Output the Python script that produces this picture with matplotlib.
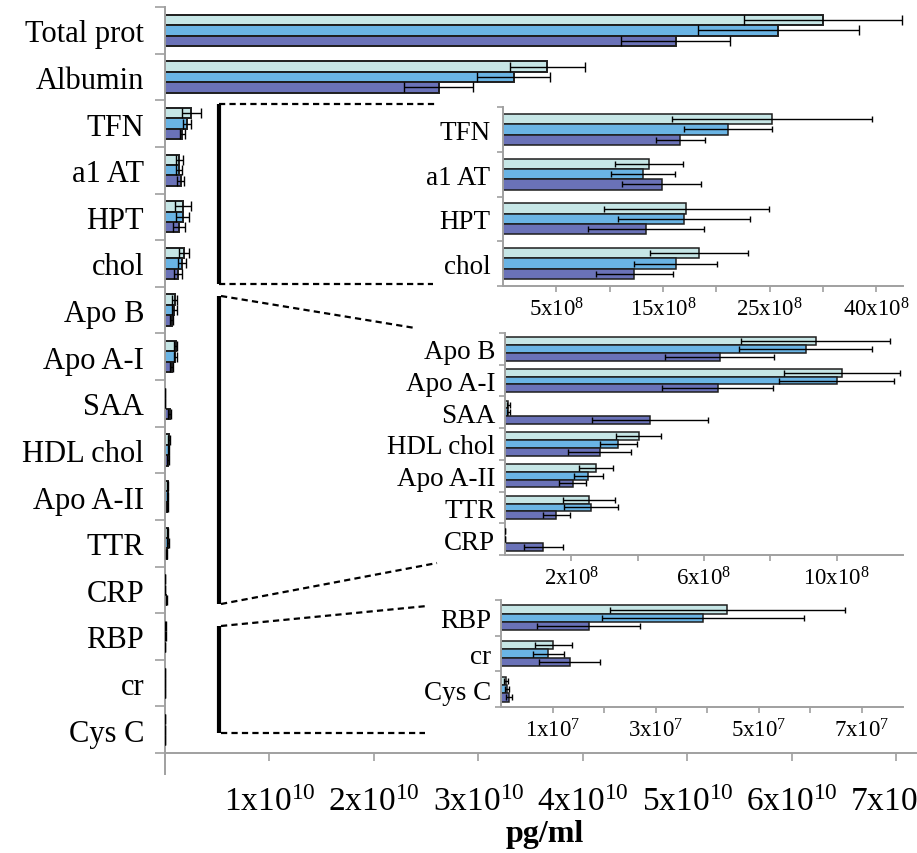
import matplotlib

matplotlib.use("Agg")
import matplotlib.pyplot as plt
import numpy as np
from matplotlib.lines import Line2D

plt.rcParams["font.family"] = ["Liberation Serif", "DejaVu Serif"]
plt.rcParams["mathtext.fontset"] = "custom"
plt.rcParams["mathtext.rm"] = "Liberation Serif"
plt.rcParams["mathtext.it"] = "Liberation Serif:italic"

# analytes, top to bottom
ANALYTES = ["Total prot", "Albumin", "TFN", "a1 AT", "HPT", "chol", "Apo B", "Apo A-I",
            "SAA", "HDL chol", "Apo A-II", "TTR", "CRP", "RBP", "cr", "Cys C"]

# concentrations (pg/ml) for the three groups, with +/- error
MEAN_1 = [6.30e10, 3.66e10, 25.2e8, 13.7e8, 17.2e8, 18.4e8, 9.37e8, 10.16e8,
          0.10e8, 4.03e8, 2.74e8, 2.54e8, 0.01e8, 4.39e7, 1.01e7, 0.10e7]
ERR_1 = [0.76e10, 0.36e10, 9.4e8, 3.2e8, 7.7e8, 4.6e8, 2.24e8, 1.74e8,
         0.05e8, 0.68e8, 0.51e8, 0.78e8, 0.005e8, 2.28e7, 0.36e7, 0.04e7]
MEAN_2 = [5.87e10, 3.34e10, 21.1e8, 13.1e8, 17.0e8, 16.2e8, 9.07e8, 10.0e8,
          0.10e8, 3.42e8, 2.51e8, 2.60e8, 0.01e8, 3.92e7, 0.92e7, 0.12e7]
ERR_2 = [0.77e10, 0.35e10, 4.1e8, 3.0e8, 6.2e8, 3.9e8, 2.0e8, 1.74e8,
         0.05e8, 0.56e8, 0.44e8, 0.82e8, 0.005e8, 1.96e7, 0.30e7, 0.04e7]
MEAN_3 = [4.89e10, 2.62e10, 16.6e8, 14.9e8, 13.4e8, 12.3e8, 6.47e8, 6.41e8,
          4.37e8, 2.85e8, 2.04e8, 1.55e8, 1.16e8, 1.70e7, 1.33e7, 0.15e7]
ERR_3 = [0.52e10, 0.33e10, 2.3e8, 3.7e8, 5.4e8, 3.6e8, 1.65e8, 1.68e8,
         1.76e8, 0.95e8, 0.41e8, 0.40e8, 0.60e8, 1.0e7, 0.60e7, 0.06e7]
COLORS = ["#c6e6e6", "#6ab4e4", "#6a72b8"]

# x ticks: main axis and the three zoomed panels
MAIN_TICKS = [1e10, 2e10, 3e10, 4e10, 5e10, 6e10, 7e10]
MAIN_LABELS = ["1x10$^{10}$", "2x10$^{10}$", "3x10$^{10}$", "4x10$^{10}$",
               "5x10$^{10}$", "6x10$^{10}$", "7x10$^{10}$"]
Z1_TICKS = [5e8, 15e8, 25e8, 35e8]
Z1_LABELS = ["5x10$^{8}$", "15x10$^{8}$", "25x10$^{8}$", "40x10$^{8}$"]
Z2_TICKS = [2e8, 6e8, 10e8]
Z2_LABELS = ["2x10$^{8}$", "6x10$^{8}$", "10x10$^{8}$"]
Z3_TICKS = [1e7, 3e7, 5e7, 7e7]
Z3_LABELS = ["1x10$^{7}$", "3x10$^{7}$", "5x10$^{7}$", "7x10$^{7}$"]

W, H = 917, 854
GRAY = "#a0a0a0"


def fig_rect(x0, y0, x1, y1):
    """pixel box (top-left origin) -> figure-fraction rect"""
    return [x0 / W, 1 - y1 / H, (x1 - x0) / W, (y1 - y0) / H]


def draw_panel(ax, idx, bar_h, label_size, label_pad, ytick_len, capsize, edge_lw):
    n = len(idx)
    pos = np.arange(n)
    series = [(MEAN_1, ERR_1), (MEAN_2, ERR_2), (MEAN_3, ERR_3)]
    for k, (means, errs) in enumerate(series):
        vals = np.array([means[i] for i in idx])
        err = np.array([errs[i] for i in idx])
        y = pos + (k - 1) * bar_h
        ax.barh(y, vals, height=bar_h, color=COLORS[k], edgecolor="#1e1e1e",
                linewidth=edge_lw, zorder=2)
        ax.errorbar(vals, y, xerr=err, fmt="none", ecolor="black",
                    elinewidth=1.0, capsize=capsize, capthick=1.0, zorder=3)
    ax.set_ylim(n - 0.5, -0.5)
    ax.set_yticks(np.arange(n + 1) - 0.5)
    ax.set_yticklabels([])
    ax.set_yticks(pos, minor=True)
    ax.set_yticklabels([ANALYTES[i] for i in idx], minor=True, fontsize=label_size)
    ax.tick_params(axis="y", which="major", length=ytick_len, color=GRAY, width=1.2)
    ax.tick_params(axis="y", which="minor", length=0, pad=label_pad)
    for side in ("top", "right"):
        ax.spines[side].set_visible(False)
    for side in ("left", "bottom"):
        ax.spines[side].set_color(GRAY)
        ax.spines[side].set_linewidth(1.4)
    ax.set_facecolor("white")


def set_xticks(ax, xmax, step, ticks, labels, size, pad, length):
    """tick every `step`, text only on the listed ticks"""
    ax.set_xlim(0, xmax)
    locs = np.arange(step, xmax, step)
    names = dict(zip(ticks, labels))
    text = []
    for v in locs:
        hit = [t for t in ticks if abs(t - v) < step * 1e-3]
        text.append(names[hit[0]] if hit else "")
    ax.set_xticks(locs)
    ax.set_xticklabels(text, fontsize=size)
    ax.tick_params(axis="x", which="major", length=length, color=GRAY, width=1.2, pad=pad)


fig = plt.figure(figsize=(W / 100, H / 100), dpi=100)

# full-range panel
ax = fig.add_axes(fig_rect(165, 8, 940, 754))
draw_panel(ax, list(range(len(ANALYTES))), 0.223, 22, 15, 7, 3.5, 1.4)
set_xticks(ax, 7.42e10, 1e10, MAIN_TICKS, MAIN_LABELS, 24, 18, 6)
ax.plot([0, 0], [15.5, 15.95], color=GRAY, lw=1.4, clip_on=False)
fig.text(545 / W, 1 - 835 / H, "pg/ml", fontsize=23, fontweight="bold",
         ha="center", va="center")

# zoomed panels
z1 = fig.add_axes(fig_rect(503, 108, 903, 287))
draw_panel(z1, [2, 3, 4, 5], 0.23, 19.5, 9, 4, 2.5, 1.1)
set_xticks(z1, 37.5e8, 5e8, Z1_TICKS, Z1_LABELS, 16.5, 4, 4)

z2 = fig.add_axes(fig_rect(505, 334, 903, 556))
draw_panel(z2, [6, 7, 8, 9, 10, 11, 12], 0.245, 19.5, 7, 4, 2.5, 1.1)
set_xticks(z2, 12e8, 2e8, Z2_TICKS, Z2_LABELS, 16.5, 4, 4)

z3 = fig.add_axes(fig_rect(501, 601, 903, 708))
draw_panel(z3, [13, 14, 15], 0.233, 19.5, 7, 4, 2.5, 1.1)
set_xticks(z3, 7.8e7, 1e7, Z3_TICKS, Z3_LABELS, 16.5, 4, 4)


# brackets and leader lines tying each group to its zoomed panel
def line(x0, y0, x1, y1, **kw):
    fig.add_artist(Line2D([x0 / W, x1 / W], [1 - y0 / H, 1 - y1 / H],
                          transform=fig.transFigure, color="black", **kw))


dash = dict(lw=1.6, ls=(0, (2.8, 1.9)))
for top, bottom in [(105, 285), (297, 605), (627, 734)]:
    line(219, top, 219, bottom, lw=3.0, solid_capstyle="butt")
line(219, 105, 435, 105, **dash)
line(219, 285, 433, 285, **dash)
line(221, 297, 415, 329, **dash)
line(221, 605, 437, 564, **dash)
line(221, 627, 427, 607, **dash)
line(221, 734, 425, 734, **dash)

fig.savefig("out.png", dpi=100)
